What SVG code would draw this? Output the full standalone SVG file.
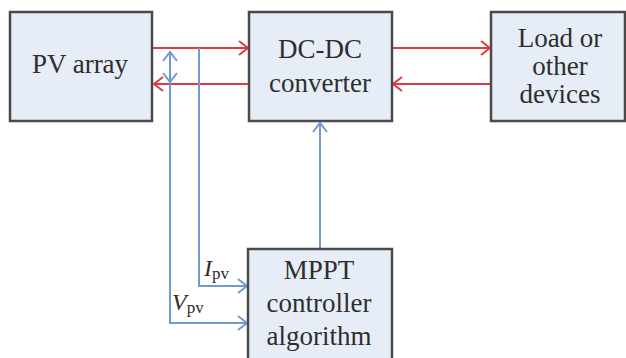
<svg xmlns="http://www.w3.org/2000/svg" width="626" height="358" viewBox="0 0 626 358">
  <style>
    .box { fill: #e7edf6; stroke: #4a4a4a; stroke-width: 2.5; }
    .lbl { font-family: "Liberation Serif", "DejaVu Serif", serif; font-size: 27px; fill: #2e2e2e; text-anchor: middle; }
    .sym { font-family: "Liberation Serif", "DejaVu Serif", serif; font-size: 24px; fill: #2e2e2e; font-style: italic; }
    .sub { font-family: "Liberation Serif", "DejaVu Serif", serif; font-size: 17px; fill: #2e2e2e; }
    .pwr { fill: none; stroke: #e23a40; stroke-width: 2; }
    .sig { fill: none; stroke: #6f9bcf; stroke-width: 2; }
  </style>
  <defs>
    <marker id="headRed" markerWidth="12" markerHeight="16" refX="10" refY="8" orient="auto" markerUnits="userSpaceOnUse">
      <path d="M1,1 L10,8 L1,15" fill="none" stroke="#e23a40" stroke-width="2"/>
    </marker>
    <marker id="headBlue" markerWidth="12" markerHeight="16" refX="10" refY="8" orient="auto" markerUnits="userSpaceOnUse">
      <path d="M1,1 L10,8 L1,15" fill="none" stroke="#6f9bcf" stroke-width="2"/>
    </marker>
  </defs>

  <g id="connectors">
    <!-- power flow -->
    <line class="pwr" x1="153" y1="48" x2="248" y2="48" marker-end="url(#headRed)"/>
    <line class="pwr" x1="249" y1="84" x2="154" y2="84" marker-end="url(#headRed)"/>
    <line class="pwr" x1="392" y1="48" x2="490" y2="48" marker-end="url(#headRed)"/>
    <line class="pwr" x1="491" y1="84" x2="393" y2="84" marker-end="url(#headRed)"/>
    <!-- voltage sense -->
    <polyline class="sig" points="170,52 170,323 247,323" marker-end="url(#headBlue)"/>
    <line class="sig" x1="170" y1="62" x2="170" y2="52" marker-end="url(#headBlue)"/>
    <line class="sig" x1="170" y1="72" x2="170" y2="82" marker-end="url(#headBlue)"/>
    <!-- current sense -->
    <polyline class="sig" points="199,48 199,286 247,286" marker-end="url(#headBlue)"/>
    <!-- control signal -->
    <line class="sig" x1="320" y1="249" x2="320" y2="123" marker-end="url(#headBlue)"/>
  </g>

  <g id="pv-array">
    <rect class="box" x="10" y="12" width="142" height="109"/>
    <text class="lbl" x="80" y="73">PV array</text>
  </g>

  <g id="dc-dc-converter">
    <rect class="box" x="249" y="12" width="143" height="109"/>
    <text class="lbl" x="320" y="58">DC-DC</text>
    <text class="lbl" x="320" y="92">converter</text>
  </g>

  <g id="load">
    <rect class="box" x="491" y="12" width="134" height="109"/>
    <text class="lbl" x="560" y="47">Load or</text>
    <text class="lbl" x="560" y="75">other</text>
    <text class="lbl" x="560" y="103">devices</text>
  </g>

  <g id="mppt-controller">
    <rect class="box" x="248" y="249" width="144" height="115"/>
    <text class="lbl" x="319" y="279">MPPT</text>
    <text class="lbl" x="319" y="312">controller</text>
    <text class="lbl" x="319" y="345">algorithm</text>
  </g>

  <g id="signal-labels">
    <text x="204" y="276"><tspan class="sym">I</tspan><tspan class="sub" dy="3">pv</tspan></text>
    <text x="172" y="310"><tspan class="sym">V</tspan><tspan class="sub" dy="3">pv</tspan></text>
  </g>
</svg>
